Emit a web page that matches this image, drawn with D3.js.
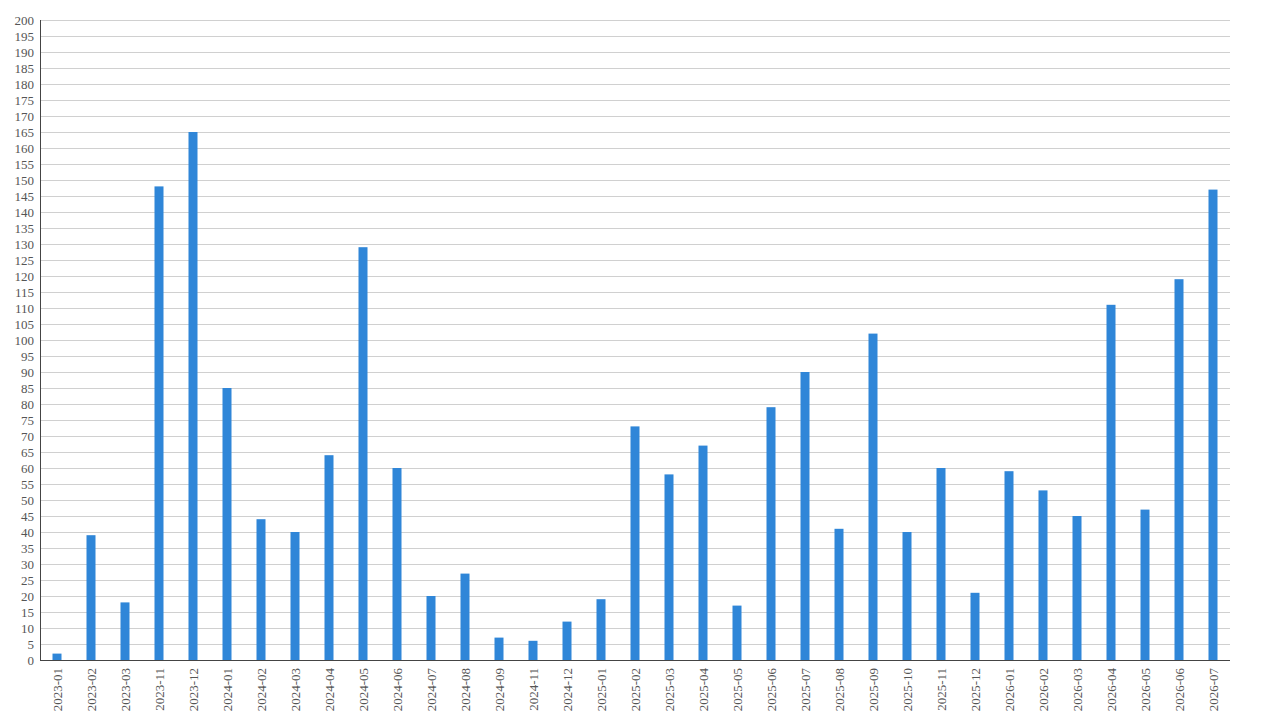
<!DOCTYPE html>
<html>
<head>
<meta charset="utf-8">
<script src="https://cdn.jsdelivr.net/npm/d3@7"></script>
<style>
  body { margin: 0; background: #fff; }
  .axis text { font-family: "Liberation Serif", serif; font-size: 13px; fill: #555; }
  .axis path { stroke: #444; }
</style>
</head>
<body>
<div id="chart"></div>
<script>
var months = ["2023-01", "2023-02", "2023-03", "2023-11", "2023-12",
  "2024-01", "2024-02", "2024-03", "2024-04", "2024-05", "2024-06", "2024-07", "2024-08", "2024-09",
  "2024-11", "2024-12",
  "2025-01", "2025-02", "2025-03", "2025-04", "2025-05", "2025-06", "2025-07", "2025-08", "2025-09",
  "2025-10", "2025-11", "2025-12",
  "2026-01", "2026-02", "2026-03", "2026-04", "2026-05", "2026-06", "2026-07"];
var counts = [2, 39, 18, 148, 165,
  85, 44, 40, 64, 129, 60, 20, 27, 7,
  6, 12,
  19, 73, 58, 67, 17, 79, 90, 41, 102,
  40, 60, 21,
  59, 53, 45, 111, 47, 119, 147];
var yTicks = d3.range(0, 201, 5);

var margin = { top: 20, right: 50, bottom: 60, left: 40 };
var width = 1280 - margin.left - margin.right;
var height = 720 - margin.top - margin.bottom;

var svg = d3
  .select("#chart")
  .append("svg")
  .attr("width", 1280)
  .attr("height", 720)
  .append("g")
  .attr("transform", "translate(" + margin.left + "," + margin.top + ")");

var x = d3.scaleBand().domain(months).range([0, width]);
var y = d3.scaleLinear().domain([0, 200]).range([height, 0]);

// grid
svg
  .append("g")
  .selectAll("line")
  .data(yTicks)
  .enter()
  .append("line")
  .attr("x1", 0)
  .attr("x2", width)
  .attr("y1", d => y(d) + 0.5)
  .attr("y2", d => y(d) + 0.5)
  .attr("stroke", "#d0d0d0")
  .attr("stroke-width", 1);

var data = months.map((m, i) => ({ month: m, value: counts[i] }));
var barW = 9;

svg
  .selectAll(".bar")
  .data(data)
  .enter()
  .append("rect")
  .attr("class", "bar")
  .attr("fill", "#2f86d8")
  .attr("x", d => x(d.month) + x.bandwidth() / 2 - barW / 2)
  .attr("width", barW)
  .attr("y", d => y(d.value))
  .attr("height", d => height - y(d.value));

svg
  .append("g")
  .attr("class", "y axis")
  .call(d3.axisLeft(y).tickValues(yTicks).tickSize(0).tickPadding(6))
  .call(g => g.select(".domain").attr("d", "M0.5,0V" + height));

svg
  .append("g")
  .attr("class", "x axis")
  .attr("transform", "translate(0," + height + ")")
  .call(d3.axisBottom(x).tickSize(0).tickPadding(8))
  .call(g => g.select(".domain").attr("d", "M0,0.5H" + width))
  .selectAll("text")
  .attr("transform", "rotate(-90)")
  .attr("x", -8)
  .attr("y", 0)
  .attr("dy", "0.35em")
  .style("text-anchor", "end");
</script>
</body>
</html>
